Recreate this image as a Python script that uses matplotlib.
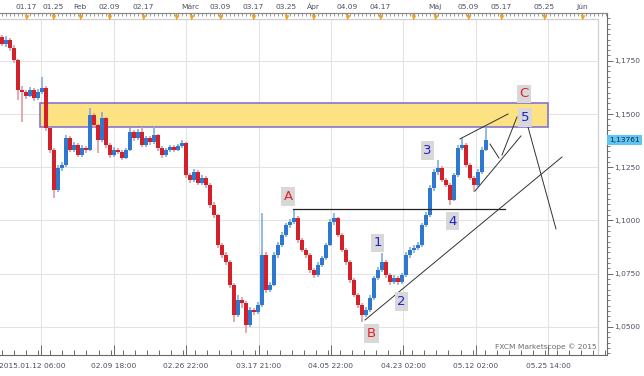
import numpy as np
import matplotlib
matplotlib.use("Agg")
import matplotlib.pyplot as plt
from matplotlib.patches import Rectangle
from matplotlib.lines import Line2D
from matplotlib.ticker import FixedLocator, MultipleLocator, FuncFormatter
from matplotlib.transforms import ScaledTranslation, blended_transform_factory

# ---------------- data (EUR/USD, 4H-like bars) ----------------
first_open = 1.1860
closes = [1.1829, 1.1848, 1.1810, 1.1754, 1.1613, 1.1603, 1.1585, 1.1613, 1.1575, 1.1603,
          1.1622, 1.1434, 1.1331, 1.1143, 1.1246, 1.1260, 1.1387, 1.1331, 1.1354, 1.1307,
          1.1340, 1.1331, 1.1495, 1.1448, 1.1378, 1.1481, 1.1354, 1.1307, 1.1331, 1.1321,
          1.1293, 1.1331, 1.1415, 1.1387, 1.1415, 1.1354, 1.1387, 1.1368, 1.1401, 1.1340,
          1.1307, 1.1331, 1.1345, 1.1331, 1.1350, 1.1364, 1.1213, 1.1190, 1.1227, 1.1176,
          1.1199, 1.1166, 1.1072, 1.1025, 1.0884, 1.0837, 1.0804, 1.0696, 1.0555, 1.0626,
          1.0612, 1.0508, 1.0579, 1.0569, 1.0602, 1.0837, 1.0673, 1.0696, 1.0837, 1.0884,
          1.0931, 1.0978, 1.0992, 1.1011, 1.0908, 1.0861, 1.0837, 1.0767, 1.0743, 1.0790,
          1.0823, 1.0884, 1.0992, 1.1011, 1.0931, 1.0861, 1.0804, 1.0720, 1.0649, 1.0602,
          1.0555, 1.0579, 1.0635, 1.0729, 1.0767, 1.0804, 1.0743, 1.0710, 1.0729, 1.0710,
          1.0743, 1.0837, 1.0861, 1.0870, 1.0884, 1.0978, 1.1025, 1.1152, 1.1227, 1.1246,
          1.1190, 1.1166, 1.1096, 1.1213, 1.1340, 1.1354, 1.1260, 1.1199, 1.1166, 1.1227,
          1.1331, 1.13761]
highs = [1.1872, 1.1866, 1.1856, 1.1822, 1.1760, 1.1630, 1.1612, 1.1628, 1.1620, 1.1618,
         1.1674, 1.1630, 1.1440, 1.1340, 1.1262, 1.1275, 1.1400, 1.1395, 1.1368, 1.1362,
         1.1352, 1.1348, 1.1528, 1.1505, 1.1455, 1.1509, 1.1488, 1.1362, 1.1345, 1.1340,
         1.1330, 1.1342, 1.1434, 1.1425, 1.1428, 1.1439, 1.1398, 1.1395, 1.1444, 1.1408,
         1.1348, 1.1342, 1.1356, 1.1352, 1.1360, 1.1378, 1.1370, 1.1225, 1.1240, 1.1235,
         1.1213, 1.1208, 1.1175, 1.1085, 1.1032, 1.0895, 1.0850, 1.0812, 1.0705, 1.0650,
         1.0640, 1.0620, 1.0595, 1.0590, 1.0615, 1.1035, 1.0850, 1.0712, 1.0850, 1.0900,
         1.0945, 1.0990, 1.1005, 1.1049, 1.1020, 1.0918, 1.0870, 1.0845, 1.0775, 1.0805,
         1.0835, 1.0895, 1.1005, 1.1035, 1.1018, 1.0940, 1.0870, 1.0812, 1.0728, 1.0660,
         1.0610, 1.0592, 1.0648, 1.0740, 1.0780, 1.0847, 1.0812, 1.0752, 1.0742, 1.0738,
         1.0755, 1.0850, 1.0875, 1.0885, 1.0898, 1.0990, 1.1040, 1.1165, 1.1240, 1.1284,
         1.1255, 1.1200, 1.1175, 1.1225, 1.1352, 1.1387, 1.1362, 1.1270, 1.1210, 1.1240,
         1.1345, 1.1439]
lows = [1.1818, 1.1815, 1.1798, 1.1740, 1.1566, 1.1462, 1.1570, 1.1578, 1.1562, 1.1568,
        1.1595, 1.1420, 1.1317, 1.1105, 1.1135, 1.1230, 1.1252, 1.1320, 1.1322, 1.1296,
        1.1300, 1.1318, 1.1325, 1.1435, 1.1317, 1.1370, 1.1340, 1.1293, 1.1298, 1.1310,
        1.1282, 1.1288, 1.1325, 1.1375, 1.1380, 1.1345, 1.1345, 1.1355, 1.1360, 1.1328,
        1.1293, 1.1300, 1.1322, 1.1320, 1.1325, 1.1340, 1.1199, 1.1176, 1.1180, 1.1166,
        1.1168, 1.1150, 1.1060, 1.1010, 1.0870, 1.0822, 1.0790, 1.0680, 1.0522, 1.0545,
        1.0590, 1.0471, 1.0500, 1.0555, 1.0560, 1.0595, 1.0660, 1.0662, 1.0690, 1.0825,
        1.0875, 1.0920, 1.0965, 1.0985, 1.0895, 1.0850, 1.0825, 1.0755, 1.0730, 1.0735,
        1.0780, 1.0815, 1.0878, 1.0980, 1.0920, 1.0850, 1.0792, 1.0708, 1.0638, 1.0590,
        1.0522, 1.0545, 1.0570, 1.0628, 1.0720, 1.0758, 1.0730, 1.0698, 1.0700, 1.0695,
        1.0702, 1.0735, 1.0825, 1.0848, 1.0860, 1.0875, 1.0968, 1.1018, 1.1140, 1.1215,
        1.1180, 1.1155, 1.1072, 1.1090, 1.1205, 1.1330, 1.1250, 1.1188, 1.1133, 1.1158,
        1.1220, 1.1325]
last_price_label = "1,13761"

# axis texts
bottom_labels = ["2015.01.12 06:00", "02.09 18:00", "02.26 22:00", "03.17 21:00",
                 "04.05 22:00", "04.23 02:00", "05.12 02:00", "05.25 14:00"]
top_labels = ["01.17", "01.25", "Feb", "02.09", "02.17", "", "Márc", "03.09", "03.17",
              "03.25", "Ápr", "04.09", "04.17", "", "Máj", "05.09", "05.17", "05.25", "Jún"]
top_label_bars = [6.0, 12.8, 19.5, 26.8, 35.3, 43.4, 47.2, 54.5, 62.8, 71.0, 77.8,
                  86.2, 94.6, 102.7, 108.2, 116.5, 124.8, 135.4, 145.0]
price_ticks = [1.05, 1.075, 1.10, 1.125, 1.15, 1.175]

# annotations (bar index, price)
resistance_zone = (9.5, 136.5, 1.1439, 1.1552)
hline_A = ((72.75, 1.1053), (125.75, 1.1053))
trendlines = [((90.75, 1.0532), (140.0, 1.1298)),
              ((118.25, 1.1138), (129.75, 1.1397)),
              ((114.5, 1.1383), (126.5, 1.1500)),
              ((122.0, 1.1359), (124.25, 1.1293)),
              ((125.0, 1.1307), (128.75, 1.1486)),
              ((131.5, 1.1439), (138.5, 1.0960))]
wave_labels = ["A", "B", "C", "1", "2", "3", "4", "5"]
wave_pos = [(71.5, 1.1112), (92.4, 1.0468), (130.5, 1.1594), (93.9, 1.0894),
            (99.9, 1.0619), (106.4, 1.1328), (112.6, 1.0997), (130.75, 1.1484)]
wave_colors = ["#e3202a", "#e3202a", "#e3202a", "#2020d0", "#2020d0", "#2020d0",
               "#2020d0", "#2020d0"]

# ---------------- figure ----------------
W, H = 644, 376
fig = plt.figure(figsize=(W / 100, H / 100), dpi=100)
ax_left, ax_right, ax_top, ax_bot = 0, 607, 13, 355
ax = fig.add_axes([ax_left / W, (H - ax_bot) / H, (ax_right - ax_left) / W,
                   (ax_bot - ax_top) / H])
fig.patch.set_facecolor("white")

n = len(closes)
x = np.arange(n)
opens = np.array([first_open] + closes[:-1])
c = np.array(closes)
up = c >= opens

# pixel geometry: bar i at px 2+4i
ax.set_xlim(-0.5, 151.25)
ppu = 53.2 / 0.025
ax.set_ylim(1.15 - (ax_bot - 114) / ppu, 1.15 + (114 - ax_top) / ppu)

frame_x = 598 / 607
frame_y = 1 - 6 / (ax_bot - ax_top)

# grid
for p in price_ticks:
    ax.axhline(p, xmin=0, xmax=frame_x, color="#e3e3e3", lw=0.8, zorder=0)
major_bars = [(41.3 + 72.4 * k - 2) / 4 for k in range(len(bottom_labels))]
for b in major_bars:
    ax.axvline(b, ymin=0, ymax=frame_y, color="#e3e3e3", lw=0.8, zorder=0)

# inner frame
ax.add_line(Line2D([0, frame_x, frame_x], [frame_y, frame_y, 0], transform=ax.transAxes,
                   color="#d0d0d0", lw=0.9, zorder=1))

# resistance zone
x0, x1, y0, y1 = resistance_zone
ax.add_patch(Rectangle((x0, y0), x1 - x0, y1 - y0, facecolor="#fce282",
                       edgecolor="#7b6ad2", lw=1.1, zorder=2))

# candles
wick_col = np.where(up, "#7fade2", "#e39a9e")
body_col = np.where(up, "#2f78cf", "#d3202a")
ax.vlines(x, lows, highs, colors=wick_col, lw=1.2, zorder=3)
bh = np.maximum(np.abs(c - opens), 0.0005)
ax.bar(x, bh, bottom=np.minimum(c, opens), width=0.8, color=body_col, zorder=4,
       linewidth=0)

# annotation lines
(hx0, hy0), (hx1, hy1) = hline_A
ax.plot([hx0, hx1], [hy0, hy1], color="#222222", lw=0.9, zorder=5)
for (a, b) in trendlines:
    ax.plot([a[0], b[0]], [a[1], b[1]], color="#333333", lw=0.7, zorder=5)

for lab, (bx, by), col in zip(wave_labels, wave_pos, wave_colors):
    ax.text(bx, by, lab, color=col, fontsize=9.5, ha="center", va="center", zorder=6,
            bbox=dict(boxstyle="square,pad=0.2", fc="#d8d8d8", ec="none"))

# ---------------- axes styling ----------------
ax.spines["left"].set_visible(False)
ax.spines["top"].set_color("#8a8a8a")
ax.spines["right"].set_color("#6a6a6a")
ax.spines["bottom"].set_color("#6a6a6a")
for s in ["top", "right", "bottom"]:
    ax.spines[s].set_linewidth(0.8)

lab_color = "#4e5060"
fs = 5.4

# bottom axis
ax.xaxis.set_major_locator(FixedLocator(major_bars))
ax.xaxis.set_minor_locator(MultipleLocator((72.4 / 6) / 4))
ax.set_xticklabels(bottom_labels)
ax.tick_params(axis="x", which="major", direction="in", length=7, width=0.7,
               color="#6a6a6a", labelsize=fs, labelcolor=lab_color, pad=6)
ax.tick_params(axis="x", which="minor", direction="in", length=3.5, width=0.7,
               color="#6a6a6a")
first = ax.get_xticklabels()[0]
first.set_transform(first.get_transform() + ScaledTranslation(-9 / 100, 0, fig.dpi_scale_trans))

# right axis
ax.yaxis.tick_right()
ax.yaxis.set_major_locator(FixedLocator(price_ticks))
ax.yaxis.set_minor_locator(MultipleLocator(0.0025))
ax.yaxis.set_major_formatter(FuncFormatter(lambda v, p: f"{v:.4f}".replace(".", ",")))
ax.tick_params(axis="y", which="major", direction="out", length=4, width=0.7,
               color="#6a6a6a", labelsize=fs, labelcolor=lab_color, pad=1.5)
ax.tick_params(axis="y", which="minor", direction="out", length=2.2, width=0.6,
               color="#6a6a6a")

# top axis
axt = ax.twiny()
axt.set_xlim(ax.get_xlim())
for s in ["left", "right", "bottom"]:
    axt.spines[s].set_visible(False)
axt.spines["top"].set_color("#8a8a8a")
axt.spines["top"].set_linewidth(0.8)
axt.xaxis.set_major_locator(FixedLocator(top_label_bars))
axt.xaxis.set_minor_locator(MultipleLocator(1.0))
axt.set_xticklabels(top_labels)
axt.tick_params(axis="x", which="major", direction="in", length=4, width=0.7,
                color="#8a8a8a", labelsize=fs, labelcolor=lab_color, pad=2.5)
axt.tick_params(axis="x", which="minor", direction="in", length=2.2, width=0.6,
                color="#8a8a8a")
tr = blended_transform_factory(axt.transData, axt.transAxes)
axt.plot(top_label_bars, [1 - 3.5 / (ax_bot - ax_top)] * len(top_label_bars), "v",
         color="#f2a324", ms=3.6, mec="none", transform=tr, clip_on=False, zorder=7)

# last price tag
trp = blended_transform_factory(ax.transAxes, ax.transData)
ax.text(1 + 2 / 607, closes[-1], last_price_label, transform=trp, ha="left", va="center",
        fontsize=fs, color="#1c2440", zorder=8, clip_on=False,
        bbox=dict(boxstyle="square,pad=0.25", fc="#5ec6f2", ec="none"))

# watermark
ax.text(597 / 607, 8 / (ax_bot - ax_top), "FXCM Marketscope © 2015", transform=ax.transAxes,
        ha="right", va="center", fontsize=fs, color="#6a6a6a", zorder=8)

fig.savefig("out.png", dpi=100, facecolor="white")
